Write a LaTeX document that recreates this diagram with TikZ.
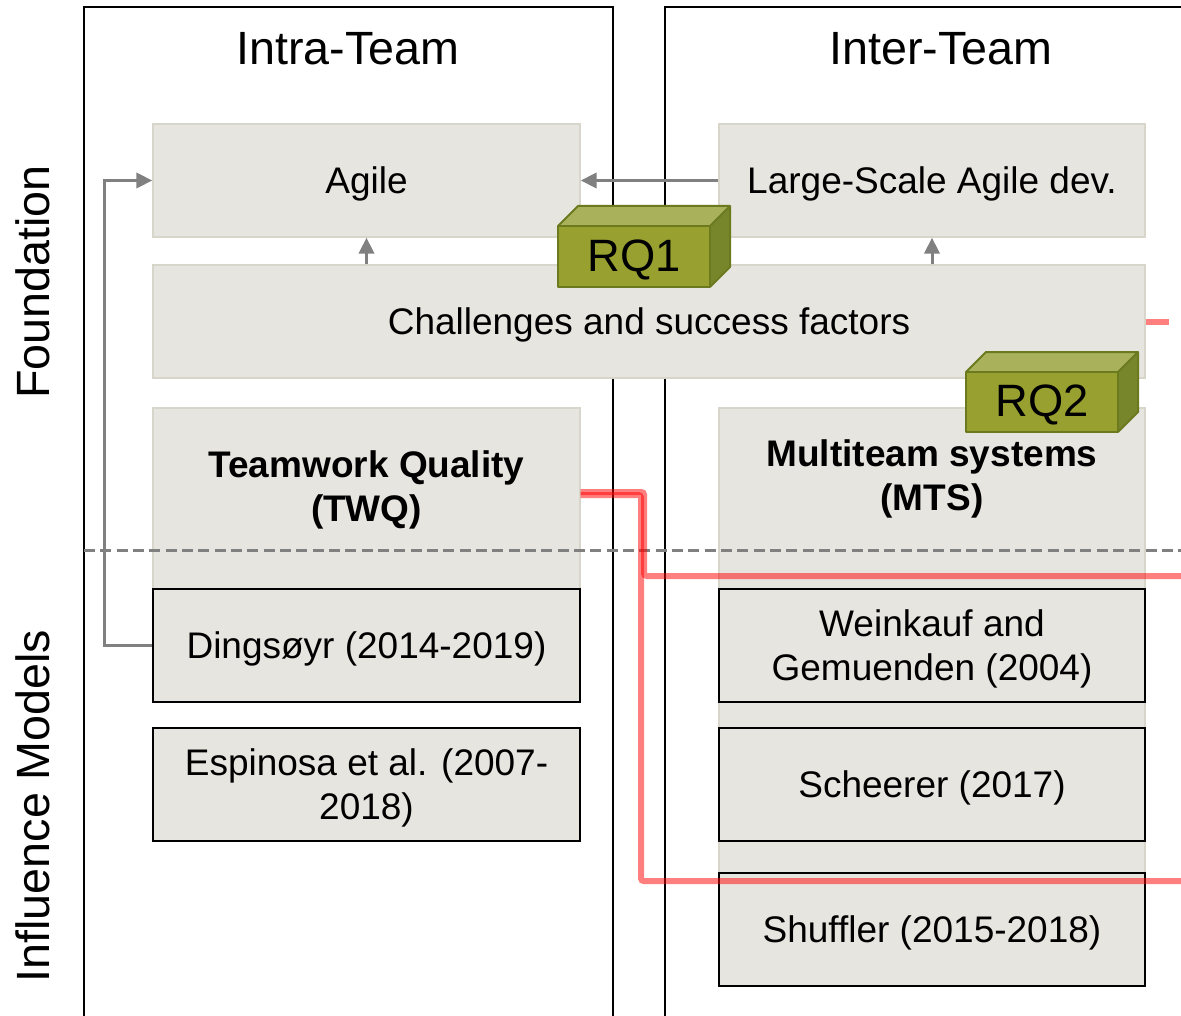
\documentclass[tikz,border=0pt]{standalone}
\usepackage{fontspec}
\setmainfont{Liberation Sans}
\usetikzlibrary{arrows.meta,calc}

\definecolor{boxfill}{HTML}{E7E5DF}
\definecolor{boxedge}{HTML}{D8D6CB}
\definecolor{arrowgray}{HTML}{808080}
\definecolor{rqfront}{HTML}{98A12F}
\definecolor{rqtop}{HTML}{A9B25A}
\definecolor{rqside}{HTML}{77862A}
\definecolor{rqedge}{HTML}{6B7A1F}

\newcommand{\bodysize}{\fontsize{27.75pt}{33pt}\selectfont}
\newcommand{\titlesize}{\fontsize{35pt}{40pt}\selectfont}
\newcommand{\rqsize}{\fontsize{34pt}{38pt}\selectfont}
% centred text block set a little below the middle of its box
\newcommand{\lowtext}[1]{\raisebox{-3.4pt}[\height][\depth]{\begin{tabular}{@{}c@{}}#1\end{tabular}}}

\tikzset{
  pane/.style={draw=black, line width=1.5pt},
  heading/.style={font=\titlesize, inner sep=0pt},
  softbox/.style={fill=boxfill, draw=boxedge, line width=1.1pt, inner sep=0pt,
    font=\bodysize, align=center},
  refbox/.style={fill=boxfill, draw=black, line width=1.5pt, inner sep=0pt,
    minimum width=320.25pt, minimum height=84.75pt, font=\bodysize, align=center},
  garrow/.style={draw=arrowgray, line width=2.25pt,
    -{Triangle[length=12pt,width=11.5pt]}},
  splitline/.style={draw=arrowgray, line width=2.25pt, dash pattern=on 8.25pt off 4pt},
  redlink/.style={draw=red, opacity=0.5, line width=4.5pt, rounded corners=2pt},
  rqface/.style={draw=rqedge, line width=1.5pt, line join=round},
}

\begin{document}
\begin{tikzpicture}[x=0.75pt, y=-0.75pt]
\useasboundingbox (0,0) rectangle (1181,1016);
\clip (0,0) rectangle (1181,1016);

% the two column panes
\draw[pane] (84,1040) -- (84,7) -- (613,7) -- (613,1040);
\draw[pane] (665,1040) -- (665,7) -- (1200,7);

% column headings and row labels
\node[heading, anchor=base] (intra) at (348,65) {Intra-Team};
\node[heading, anchor=base] (inter) at (941,65) {Inter-Team};
\node[heading, rotate=90] (found) at (33,282) {Foundation};
\node[heading, rotate=90] (influ) at (33,806) {Influence Models};

% foundation boxes
\node[softbox, minimum width=320.25pt, minimum height=84.75pt] (agile) at (366.5,180.5) {\lowtext{Agile}};
\node[softbox, minimum width=319.5pt, minimum height=84.75pt] (large) at (932,180.5) {\lowtext{Large-Scale Agile dev.}};
\node[softbox, minimum width=744pt, minimum height=84.75pt] (chal) at (649,321.5) {\lowtext{Challenges and success factors}};
\node[softbox, minimum width=320.25pt, minimum height=135.75pt] (twqbox) at (366.5,498.5) {};
\node[softbox, minimum width=319.5pt, minimum height=391.5pt] (mtsbox) at (932,669) {};
\node[font=\bodysize\bfseries, align=center, inner sep=0pt] (twq) at (366.5,490) {Teamwork Quality\\(TWQ)};
\node[font=\bodysize\bfseries, align=center, inner sep=0pt] (mts) at (932,478.5) {Multiteam systems\\(MTS)};

% dependencies between the boxes
\draw[garrow] (large.west) -- (agile.east);
\draw[garrow] (chal.north -| agile.south) -- (agile.south);
\draw[garrow] (chal.north -| large.south) -- (large.south);

% boundary between foundation and influence models
\draw[splitline] (84,550) -- (1181,550);

% influence models
\node[refbox] (ding) at (366.5,645.5) {\lowtext{Dingsøyr (2014-2019)}};
\node[refbox] (espi) at (366.5,784.5) {\lowtext{Espinosa et al. (2007-\\2018)}};
\node[refbox, minimum width=319.5pt] (wein) at (932,645.5) {\lowtext{Weinkauf and\\Gemuenden (2004)}};
\node[refbox, minimum width=319.5pt] (sche) at (932,784.5) {\lowtext{Scheerer (2017)}};
\node[refbox, minimum width=319.5pt] (shuf) at (932,929.5) {\lowtext{Shuffler (2015-2018)}};

\draw[garrow] (ding.west) -- ++(-48,0) |- (agile.west);

% research question blocks
\fill[rqtop] (558,226) -- (578,206) -- (730,206) -- (710,226) -- cycle;
\fill[rqside] (710,226) -- (730,206) -- (730,267) -- (710,287) -- cycle;
\draw[rqface] (558,226) -- (578,206) -- (730,206) -- (710,226)
  (710,287) -- (730,267) -- (730,206);
\node[rqface, fill=rqfront, minimum width=114pt, minimum height=45.75pt,
  inner sep=0pt, font=\rqsize] (rq1) at (634,256.5) {\lowtext{RQ1}};

\fill[rqtop] (966,372) -- (986,352) -- (1138,352) -- (1118,372) -- cycle;
\fill[rqside] (1118,372) -- (1138,352) -- (1138,412) -- (1118,432) -- cycle;
\draw[rqface] (966,372) -- (986,352) -- (1138,352) -- (1118,372)
  (1118,432) -- (1138,412) -- (1138,352);
\node[rqface, fill=rqfront, minimum width=114pt, minimum height=45pt,
  inner sep=0pt, font=\rqsize] (rq2) at (1042,402) {\lowtext{RQ2}};

% links from the models to the inter-team side
\coordinate (edgeA) at (1181,576);
\coordinate (edgeB) at (1181,881);
\coordinate (edgeC) at (1169,322);
\draw[redlink] (twqbox.east |- 0,492) -- (644,492) |- (edgeA);
\draw[redlink] (twqbox.east |- 0,495) -- (641,495) |- (edgeB);
\draw[redlink] (chal.east |- edgeC) -- (edgeC);
\end{tikzpicture}
\end{document}
